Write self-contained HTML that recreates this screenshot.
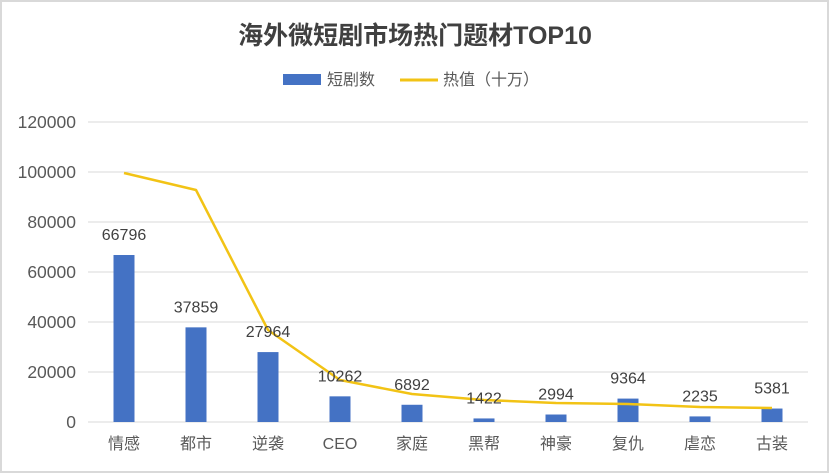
<!DOCTYPE html>
<html><head><meta charset="utf-8"><style>
body{margin:0;background:#fff;}
svg{display:block;font-family:"Liberation Sans","Noto Sans CJK SC",sans-serif;}
</style></head><body>
<svg id="c" width="830" height="474">
<rect x="1" y="1" width="827" height="471" fill="#fff" stroke="#d9d9d9" stroke-width="2"/>
<text x="415" y="44" text-anchor="middle" font-size="25" font-weight="bold" fill="#404040">海外微短剧市场热门题材TOP10</text>
<g>
<rect x="283" y="74" width="38" height="11" fill="#4472c4"/>
<text x="327" y="85" font-size="16" fill="#595959">短剧数</text>
<line x1="400" y1="80" x2="438" y2="80" stroke="#f2c315" stroke-width="3"/>
<text x="443" y="85" font-size="16" fill="#595959">热值（十万）</text>
</g>
<g id="grid"></g><g id="bars"></g><g id="line"></g><g id="labels"></g>
</svg>
<script>
const categories=["情感","都市","逆袭","CEO","家庭","黑帮","神豪","复仇","虐恋","古装"];
const counts=[66796,37859,27964,10262,6892,1422,2994,9364,2235,5381];
const heat=[99600,92800,36800,16800,11200,8800,7600,7200,6000,5600];
const yTicks=[0,20000,40000,60000,80000,100000,120000];
const NS="http://www.w3.org/2000/svg";
const x0=88,x1=808,yBase=422,yTop=122,yMax=120000;
const step=(x1-x0)/categories.length;
const xs=i=>x0+step*(i+0.5);
const ys=v=>yBase-(v/yMax)*(yBase-yTop);
function mk(tag,attrs,parent,text){const e=document.createElementNS(NS,tag);for(const k in attrs)e.setAttribute(k,attrs[k]);if(text!==undefined)e.textContent=text;document.getElementById(parent).appendChild(e);return e;}
yTicks.forEach(t=>{
 const l=mk('line',{x1:x0,x2:x1,y1:ys(t),y2:ys(t),stroke:'#d9d9d9','stroke-width':1},'grid');
 
 
 const tx=mk('text',{x:76,y:ys(t)+6,'text-anchor':'end','font-size':17.5,fill:'#595959'},'grid',String(t));
 
 
});
categories.forEach((c,i)=>{
 const b=mk('rect',{x:xs(i)-10.5,y:ys(counts[i]),width:21,height:yBase-ys(counts[i]),fill:'#4472c4'},'bars');
 
 
 const v=mk('text',{x:xs(i),y:ys(counts[i])-15,'text-anchor':'middle','font-size':16,fill:'#404040'},'labels',String(counts[i]));
 
 
 const cl=mk('text',{x:xs(i),y:449,'text-anchor':'middle','font-size':16,fill:'#595959'},'labels',c);
 
 
});
const pts=heat.map((v,i)=>xs(i)+','+ys(v)).join(' ');
const pl=mk('polyline',{points:pts,fill:'none',stroke:'#f2c315','stroke-width':2.5,'stroke-linejoin':'round'},'line');


</script>
</body></html>
